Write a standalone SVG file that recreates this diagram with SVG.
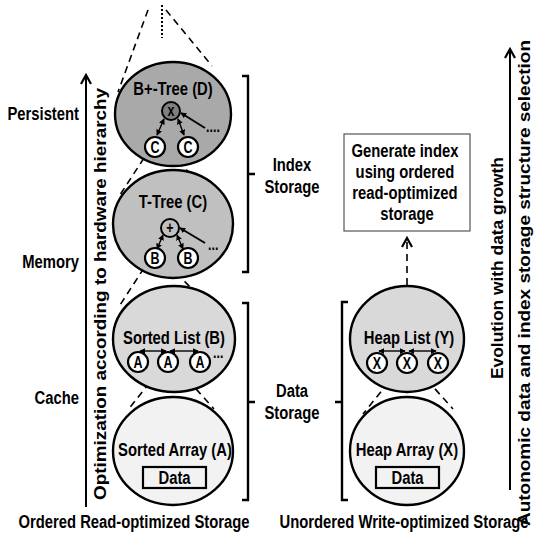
<svg xmlns="http://www.w3.org/2000/svg" width="535" height="536" viewBox="0 0 535 536">
  <defs>
    <style>
      .t { font-family: "Liberation Sans", Arial, sans-serif; font-weight: bold; font-size: 19px; fill: #000; }
      .m { text-anchor: middle; }
      .e { text-anchor: end; }
      .s { font-size: 16px; }
      .w { font-family: "Liberation Sans", Arial, sans-serif; font-weight: bold; font-size: 17px; fill: #000; }
      .ell { stroke: #000; stroke-width: 2.4; }
      .dash { fill: none; stroke: #000; stroke-width: 1.6; stroke-dasharray: 7 5; }
      .sc { stroke: #000; stroke-width: 2.2; fill: #fff; }
      .ln { fill: none; stroke: #000; stroke-width: 2; }
      .thin { fill: none; stroke: #000; stroke-width: 1.4; }
      .br { fill: none; stroke: #000; stroke-width: 2.4; }
    </style>
    <marker id="open" viewBox="0 0 12 12" refX="10" refY="6" markerWidth="12" markerHeight="12" markerUnits="userSpaceOnUse" orient="auto">
      <path d="M1,1 L10,6 L1,11" fill="none" stroke="#000" stroke-width="2.2"/>
    </marker>
    <marker id="tri" viewBox="0 0 8 8" refX="7" refY="4" markerWidth="6" markerHeight="6" markerUnits="userSpaceOnUse" orient="auto-start-reverse">
      <path d="M0,0 L8,4 L0,8 Z" fill="#000"/>
    </marker>
  </defs>
  <rect width="535" height="536" fill="#fff"/>

  <!-- memory hierarchy levels (condensed bold text via horizontal scale) -->
  <g id="levels">
    <text class="t e" transform="translate(79 120) scale(.78 1)">Persistent</text>
    <text class="t e" transform="translate(79 268) scale(.78 1)">Memory</text>
    <text class="t e" transform="translate(79 404) scale(.78 1)">Cache</text>
  </g>

  <!-- connectors -->
  <g id="connectors">
    <!-- hardware hierarchy axis -->
    <line x1="86" y1="507" x2="86" y2="75" class="ln" marker-end="url(#open)"/>
    <!-- autonomic axis -->
    <line x1="510" y1="490" x2="510" y2="49" class="ln" marker-end="url(#open)"/>
    <!-- magnification cones -->
    <line x1="162" y1="5" x2="162" y2="38" stroke="#000" stroke-width="2" stroke-dasharray="2 2"/>
    <line x1="148" y1="10" x2="118" y2="92" class="dash"/>
    <line x1="166" y1="10" x2="212" y2="66" class="dash"/>
    <line x1="144" y1="158" x2="118" y2="198" class="dash"/>
    <line x1="168" y1="154" x2="190" y2="173" class="dash"/>
    <line x1="144" y1="268" x2="120" y2="305" class="dash"/>
    <line x1="168" y1="264" x2="190" y2="287" class="dash"/>
    <line x1="157" y1="373" x2="128" y2="410" class="dash"/>
    <line x1="180" y1="371" x2="214" y2="409" class="dash"/>
    <line x1="396" y1="373" x2="363" y2="414" class="dash"/>
    <line x1="419" y1="371" x2="453" y2="409" class="dash"/>
    <!-- index generation -->
    <line x1="407" y1="285" x2="407" y2="238" class="dash" stroke-width="2.2" stroke-dasharray="9 7" marker-end="url(#open)"/>
    <!-- storage brackets -->
    <path d="M242,76 H248 V272 H242 M248,174 H255" class="br"/>
    <path d="M242,303 H248 V500 H242 M248,402 H255" class="br"/>
    <path d="M348,302 H342 V500 H348 M342,402 H335" class="br"/>
  </g>

  <g id="axis-labels">
    <text class="w" transform="translate(106,500) rotate(-90)" textLength="412" lengthAdjust="spacingAndGlyphs">Optimization according to hardware hierarchy</text>
    <text class="w" transform="translate(503,379) rotate(-90)" textLength="222" lengthAdjust="spacingAndGlyphs">Evolution with data growth</text>
    <text class="w" transform="translate(530,526) rotate(-90)" textLength="486" lengthAdjust="spacingAndGlyphs">Autonomic data and index storage structure selection</text>
  </g>

  <!-- B+-Tree -->
  <g id="btree">
    <ellipse cx="173" cy="114" rx="58" ry="52" fill="#a9a9a9" class="ell"/>
    <text class="t m" transform="translate(173 95) scale(.78 1)">B+-Tree (D)</text>
    <line x1="164" y1="119" x2="157" y2="135" class="thin" marker-start="url(#tri)" marker-end="url(#tri)"/>
    <line x1="178" y1="119" x2="184" y2="135" class="thin" marker-start="url(#tri)" marker-end="url(#tri)"/>
    <line x1="181" y1="113" x2="205" y2="128" class="ln" marker-start="url(#tri)"/>
    <text class="t s" transform="translate(206 132) scale(.78 1)">....</text>
    <circle cx="171" cy="111" r="9" fill="#808080" stroke="#000" stroke-width="2"/>
    <text class="t s m" transform="translate(171 116) scale(.78 1)">x</text>
    <circle cx="155" cy="147" r="10" class="sc"/>
    <text class="t s m" transform="translate(155 152.5) scale(.78 1)">C</text>
    <circle cx="188" cy="147" r="10" class="sc"/>
    <text class="t s m" transform="translate(188 152.5) scale(.78 1)">C</text>
  </g>

  <!-- T-Tree -->
  <g id="ttree">
    <ellipse cx="173" cy="224" rx="60" ry="54" fill="#c0c0c0" class="ell"/>
    <text class="t m" transform="translate(173 208) scale(.78 1)">T-Tree (C)</text>
    <line x1="163" y1="235" x2="157" y2="249" class="thin" marker-start="url(#tri)" marker-end="url(#tri)"/>
    <line x1="177" y1="235" x2="183" y2="249" class="thin" marker-start="url(#tri)" marker-end="url(#tri)"/>
    <line x1="180" y1="228" x2="205" y2="243" class="ln" marker-start="url(#tri)"/>
    <text class="t s" transform="translate(208 250) scale(.78 1)">...</text>
    <circle cx="170" cy="228" r="9" fill="#c0c0c0" stroke="#000" stroke-width="2"/>
    <text class="t s m" transform="translate(170 233) scale(.78 1)">+</text>
    <circle cx="155" cy="258" r="10" class="sc"/>
    <text class="t s m" transform="translate(155 263.5) scale(.78 1)">B</text>
    <circle cx="188" cy="258" r="10" class="sc"/>
    <text class="t s m" transform="translate(188 263.5) scale(.78 1)">B</text>
  </g>

  <!-- Sorted List -->
  <g id="sorted-list">
    <ellipse cx="174" cy="339" rx="61" ry="53" fill="#d9d9d9" class="ell"/>
    <text class="t m" transform="translate(174 344) scale(.78 1)">Sorted List (B)</text>
    <line x1="140" y1="351" x2="166" y2="351" class="thin" marker-start="url(#tri)" marker-end="url(#tri)"/>
    <line x1="170" y1="351" x2="198" y2="351" class="thin" marker-start="url(#tri)" marker-end="url(#tri)"/>
    <text class="t s" transform="translate(213 358) scale(.78 1)">...</text>
    <circle cx="138" cy="362" r="10" class="sc"/>
    <text class="t s m" transform="translate(138 367.5) scale(.78 1)">A</text>
    <circle cx="168" cy="362" r="10" class="sc"/>
    <text class="t s m" transform="translate(168 367.5) scale(.78 1)">A</text>
    <circle cx="200" cy="362" r="10" class="sc"/>
    <text class="t s m" transform="translate(200 367.5) scale(.78 1)">A</text>
  </g>

  <!-- Sorted Array -->
  <g id="sorted-array">
    <ellipse cx="173" cy="451" rx="60" ry="54" fill="#f2f2f2" class="ell"/>
    <text class="t m" transform="translate(175 456) scale(.78 1)">Sorted Array (A)</text>
    <rect x="143" y="467" width="63" height="21" fill="#f2f2f2" stroke="#000" stroke-width="2.2"/>
    <text class="t m" transform="translate(174.5 484) scale(.78 1)">Data</text>
  </g>

  <!-- Heap List -->
  <g id="heap-list">
    <ellipse cx="407" cy="339" rx="57" ry="53" fill="#d9d9d9" class="ell"/>
    <text class="t m" transform="translate(409 344) scale(.78 1)">Heap List (Y)</text>
    <line x1="379" y1="351" x2="405" y2="351" class="thin" marker-start="url(#tri)" marker-end="url(#tri)"/>
    <line x1="409" y1="351" x2="436" y2="351" class="thin" marker-start="url(#tri)" marker-end="url(#tri)"/>
    <circle cx="377" cy="363" r="10" class="sc"/>
    <text class="t s m" transform="translate(377 368.5) scale(.78 1)">X</text>
    <circle cx="407" cy="363" r="10" class="sc"/>
    <text class="t s m" transform="translate(407 368.5) scale(.78 1)">X</text>
    <circle cx="438" cy="363" r="10" class="sc"/>
    <text class="t s m" transform="translate(438 368.5) scale(.78 1)">X</text>
  </g>

  <!-- Heap Array -->
  <g id="heap-array">
    <ellipse cx="407" cy="451" rx="57" ry="54" fill="#f2f2f2" class="ell"/>
    <text class="t m" transform="translate(407 456) scale(.78 1)">Heap Array (X)</text>
    <rect x="376" y="467" width="63" height="21" fill="#f2f2f2" stroke="#000" stroke-width="2.2"/>
    <text class="t m" transform="translate(407.5 484) scale(.78 1)">Data</text>
  </g>

  <!-- Index generation box -->
  <g id="generate-index">
    <rect x="344" y="134" width="126" height="97" fill="#fff" stroke="#555" stroke-width="1.2"/>
    <g transform="translate(407 0) scale(.78 1)">
      <text class="t m">
        <tspan x="0" y="157">Generate index</tspan>
        <tspan x="0" y="178">using ordered</tspan>
        <tspan x="0" y="199">read-optimized</tspan>
        <tspan x="0" y="220">storage</tspan>
      </text>
    </g>
  </g>

  <!-- storage labels -->
  <g id="storage-labels">
    <g transform="translate(292 0) scale(.78 1)">
      <text class="t m"><tspan x="0" y="171">Index</tspan><tspan x="0" y="193">Storage</tspan></text>
      <text class="t m"><tspan x="0" y="397">Data</tspan><tspan x="0" y="419">Storage</tspan></text>
    </g>
    <text class="t m" transform="translate(134 528) scale(.78 1)">Ordered Read-optimized Storage</text>
    <text class="t m" transform="translate(404 528) scale(.78 1)">Unordered Write-optimized Storage</text>
  </g>
</svg>
